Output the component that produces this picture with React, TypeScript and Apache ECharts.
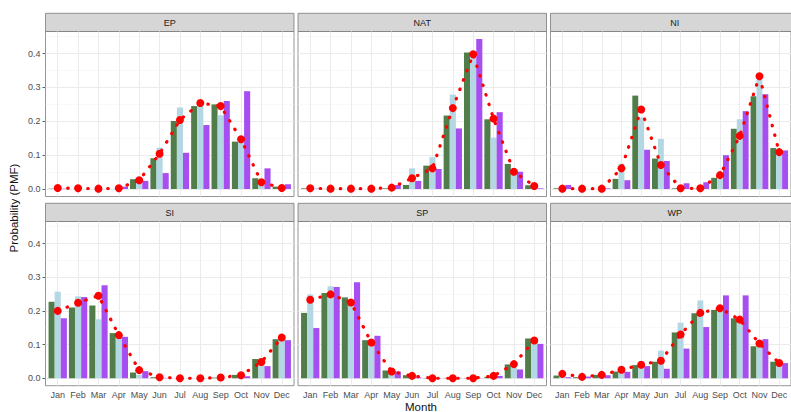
import React, { useEffect, useRef } from 'react';
import * as echarts from 'echarts';

const months = ['Jan', 'Feb', 'Mar', 'Apr', 'May', 'Jun', 'Jul', 'Aug', 'Sep', 'Oct', 'Nov', 'Dec'];
const basins = ['EP', 'NAT', 'NI', 'SI', 'SP', 'WP'];
const yTicks = [0, 0.1, 0.2, 0.3, 0.4];
const yMinor = [0.05, 0.15, 0.25, 0.35, 0.45];

// EP
const epObs = [0.001, 0, 0, 0, 0.029, 0.091, 0.201, 0.245, 0.25, 0.14, 0.032, 0.007];
const epSimA = [0.001, 0, 0, 0, 0.02, 0.122, 0.241, 0.248, 0.218, 0.145, 0.025, 0.005];
const epSimB = [0.001, 0, 0, 0.007, 0.024, 0.047, 0.107, 0.189, 0.26, 0.289, 0.061, 0.014];
const epFit = [0.003, 0.002, 0.001, 0.002, 0.026, 0.104, 0.204, 0.254, 0.245, 0.147, 0.02, 0.003];
// NAT
const natObs = [0.002, 0, 0, 0, 0.002, 0.012, 0.069, 0.217, 0.403, 0.206, 0.074, 0.011];
const natSimA = [0, 0, 0, 0, 0.003, 0.061, 0.094, 0.279, 0.39, 0.152, 0.046, 0.006];
const natSimB = [0.001, 0, 0, 0, 0.012, 0.024, 0.059, 0.179, 0.443, 0.227, 0.051, 0.002];
const natFit = [0.002, 0.001, 0.001, 0.001, 0.004, 0.032, 0.061, 0.239, 0.398, 0.208, 0.051, 0.009];
// NI
const niObs = [0.002, 0, 0, 0.03, 0.276, 0.09, 0.002, 0.001, 0.033, 0.178, 0.274, 0.121];
const niSimA = [0.005, 0, 0, 0.075, 0.211, 0.148, 0.004, 0.004, 0.03, 0.206, 0.324, 0.11];
const niSimB = [0.012, 0, 0.002, 0.026, 0.116, 0.083, 0.017, 0.02, 0.1, 0.23, 0.28, 0.114];
const niFit = [0.001, 0.001, 0.001, 0.061, 0.235, 0.071, 0.002, 0.002, 0.041, 0.157, 0.333, 0.109];
// SI
const siObs = [0.227, 0.21, 0.216, 0.134, 0.017, 0.003, 0, 0, 0.002, 0.01, 0.057, 0.116];
const siSimA = [0.257, 0.243, 0.175, 0.125, 0.01, 0.003, 0, 0, 0.001, 0.008, 0.06, 0.12];
const siSimB = [0.178, 0.241, 0.276, 0.123, 0.021, 0.001, 0, 0, 0, 0.006, 0.036, 0.113];
const siFit = [0.2, 0.224, 0.245, 0.128, 0.024, 0.003, 0, 0, 0.002, 0.009, 0.048, 0.121];
// SP
const spObs = [0.194, 0.253, 0.24, 0.113, 0.023, 0.009, 0.001, 0.001, 0.001, 0.004, 0.041, 0.118];
const spSimA = [0.249, 0.273, 0.225, 0.1, 0.02, 0.006, 0, 0, 0.002, 0.006, 0.04, 0.11];
const spSimB = [0.149, 0.271, 0.285, 0.126, 0.02, 0.003, 0.001, 0.001, 0.001, 0.007, 0.026, 0.102];
const spFit = [0.233, 0.249, 0.225, 0.106, 0.02, 0.007, 0, 0, 0, 0.007, 0.042, 0.112];
// WP
const wpObs = [0.008, 0.003, 0.01, 0.02, 0.039, 0.049, 0.136, 0.193, 0.203, 0.178, 0.095, 0.049];
const wpSimA = [0.004, 0.003, 0.01, 0.02, 0.04, 0.082, 0.165, 0.231, 0.21, 0.163, 0.1, 0.045];
const wpSimB = [0.003, 0.005, 0.009, 0.019, 0.036, 0.028, 0.088, 0.152, 0.246, 0.246, 0.116, 0.045];
const wpFit = [0.013, 0.004, 0.01, 0.025, 0.04, 0.052, 0.13, 0.194, 0.208, 0.174, 0.103, 0.045];

const obsByBasin = [epObs, natObs, niObs, siObs, spObs, wpObs];
const simAByBasin = [epSimA, natSimA, niSimA, siSimA, spSimA, wpSimA];
const simBByBasin = [epSimB, natSimB, niSimB, siSimB, spSimB, wpSimB];
const fitByBasin = [epFit, natFit, niFit, siFit, spFit, wpFit];

const FONT = 'Liberation Sans, Arial, Helvetica, sans-serif';
const colLeft = [45.5, 298, 550.5];
const panelW = 248.5;
const stripTop = [13.3, 203.3];
const stripH = 18.2;
const gridTop = [31.5, 221.5];
const gridH = [165, 164.2];
const Y_MIN = -0.02216;
const Y_MAX = 0.4654;
const BORDER = '#7a7a7a';

export default function App() {
  const ref = useRef<HTMLDivElement>(null);
  useEffect(() => {
    if (!ref.current) return;
    const chart = echarts.init(ref.current, undefined, { renderer: 'svg' });
    const xTicks = months.map((_, k) => k + 1);
    const grids: any[] = [];
    const xAxes: any[] = [];
    const yAxes: any[] = [];
    const series: any[] = [];
    const graphics: any[] = [];

    basins.forEach((b, i) => {
      const col = i % 3;
      const row = Math.floor(i / 3);
      grids.push({
        left: colLeft[col], top: gridTop[row], width: panelW, height: gridH[row],
        show: true, backgroundColor: '#ffffff', borderColor: BORDER, borderWidth: 0.8,
      });
      xAxes.push({
        gridIndex: i, type: 'value', min: 0.4, max: 12.6,
        axisLine: { show: false }, splitLine: { show: false },
        axisTick: { show: row === 1, customValues: xTicks, length: 3, lineStyle: { color: '#333333', width: 0.8 } },
        axisLabel: {
          show: row === 1, customValues: xTicks, margin: 5, fontSize: 9, color: '#4d4d4d', fontFamily: FONT,
          formatter: (v: number) => months[Math.round(v) - 1] ?? '',
        },
      });
      yAxes.push({
        gridIndex: i, type: 'value', min: Y_MIN, max: Y_MAX,
        axisLine: { show: false }, splitLine: { show: false },
        axisTick: { show: col === 0, customValues: yTicks, length: 3, lineStyle: { color: '#333333', width: 0.8 } },
        axisLabel: {
          show: col === 0, customValues: yTicks, margin: 5, fontSize: 9, color: '#4d4d4d', fontFamily: FONT,
          formatter: (v: number) => v.toFixed(1),
        },
      });
      // gridlines
      series.push({
        type: 'line', xAxisIndex: i, yAxisIndex: i, data: [], silent: true, z: 1,
        markLine: {
          silent: true, z: 1, symbol: ['none', 'none'], label: { show: false }, animation: false,
          lineStyle: { color: '#ebebeb', width: 1, type: 'solid' },
          data: [
            ...yMinor.map((v) => ({ yAxis: v, lineStyle: { color: '#f3f3f3', width: 0.6, type: 'solid' } })),
            ...yTicks.map((v) => ({ yAxis: v })),
            ...xTicks.map((v) => ({ xAxis: v })),
          ],
        },
      });
      const mk = (arr: number[]) => arr.map((v, k) => [k + 1, v]);
      const barCommon = { type: 'bar', xAxisIndex: i, yAxisIndex: i, barWidth: '30%', barGap: '0%', z: 2, silent: true };
      series.push({ ...barCommon, name: 'Observed', data: mk(obsByBasin[i]), itemStyle: { color: '#517d4b' } });
      series.push({ ...barCommon, name: 'Model A', data: mk(simAByBasin[i]), itemStyle: { color: '#b3d8e4' } });
      series.push({ ...barCommon, name: 'Model B', data: mk(simBByBasin[i]), itemStyle: { color: '#a64ef0' } });
      series.push({
        type: 'line', name: 'Fitted', xAxisIndex: i, yAxisIndex: i, data: mk(fitByBasin[i]), z: 3, silent: true,
        symbol: 'circle', symbolSize: 8, showSymbol: true,
        itemStyle: { color: '#ff0000' },
        lineStyle: { color: '#ff0000', width: 3.2, type: [0.5, 9.5], cap: 'round' },
      });
      graphics.push({
        type: 'rect', shape: { x: colLeft[col], y: stripTop[row], width: panelW, height: stripH },
        style: { fill: '#d6d6d6', stroke: BORDER, lineWidth: 0.8 }, silent: true,
      });
      graphics.push({
        type: 'text', x: colLeft[col] + panelW / 2, y: stripTop[row] + stripH / 2 + 0.5, silent: true,
        style: { text: b, fill: '#1a1a1a', font: `9px ${FONT}`, align: 'center', verticalAlign: 'middle' },
      });
    });

    graphics.push({
      type: 'text', x: 14, y: 208, rotation: Math.PI / 2, silent: true,
      style: { text: 'Probability (PMF)', fill: '#111111', font: `11.5px ${FONT}`, align: 'center', verticalAlign: 'middle' },
    });
    graphics.push({
      type: 'text', x: 421, y: 406.5, silent: true,
      style: { text: 'Month', fill: '#111111', font: `11.5px ${FONT}`, align: 'center', verticalAlign: 'middle' },
    });

    chart.setOption({
      animation: false,
      backgroundColor: '#ffffff',
      grid: grids,
      xAxis: xAxes,
      yAxis: yAxes,
      series,
      graphic: graphics,
    });
    return () => chart.dispose();
  }, []);
  return <div ref={ref} style={{ position: 'fixed', left: 0, top: 0, width: 791, height: 412 }} />;
}
